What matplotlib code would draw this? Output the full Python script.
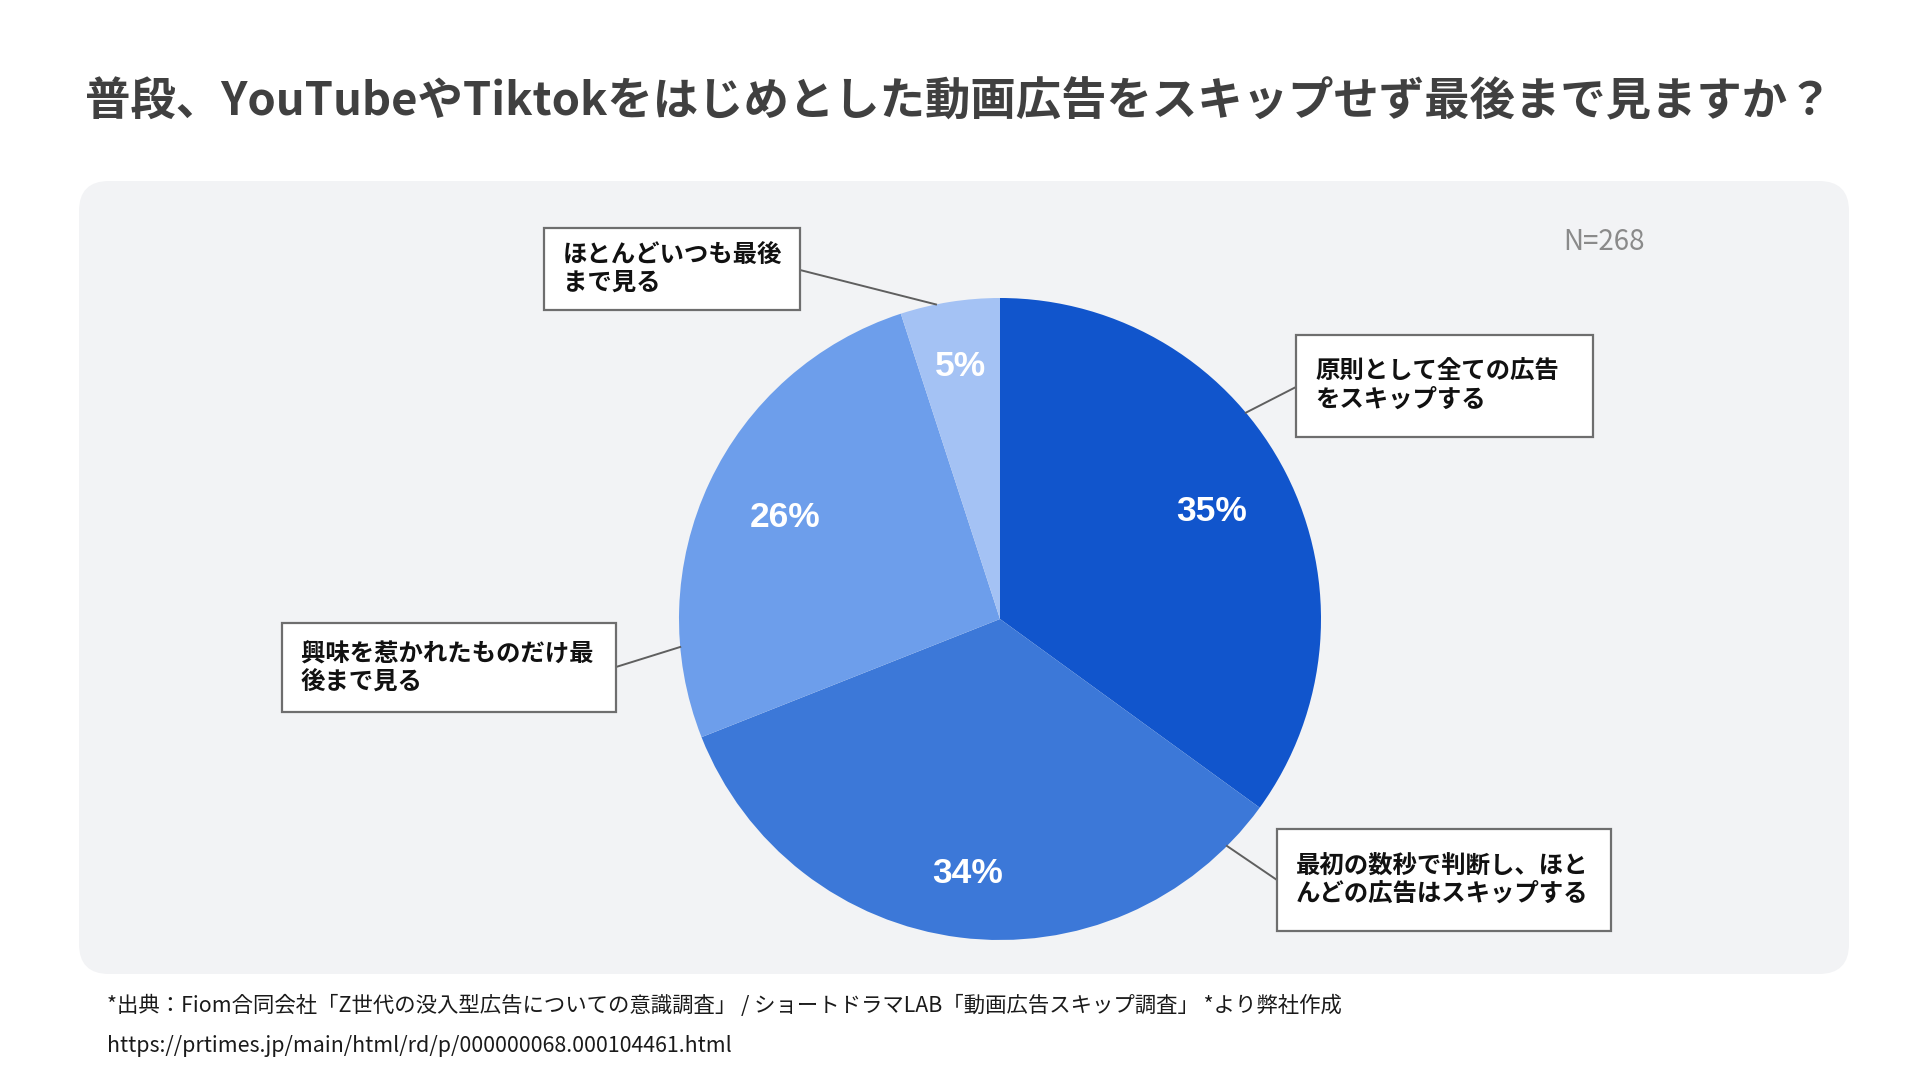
import matplotlib.pyplot as plt
from matplotlib.patches import FancyBboxPatch, Rectangle
import numpy as np

plt.rcParams['font.family'] = ['Noto Sans CJK JP', 'DejaVu Sans']

title = "普段、YouTubeやTiktokをはじめとした動画広告をスキップせず最後まで見ますか？"
categories = ["原則として全ての広告\nをスキップする",
              "最初の数秒で判断し、ほと\nんどの広告はスキップする",
              "興味を惹かれたものだけ最\n後まで見る",
              "ほとんどいつも最後\nまで見る"]
shares = [35, 34, 26, 5]
colors = ["#1155cc", "#3c78d8", "#6d9eeb", "#a4c2f4"]
n_label = "N=268"
source = "*出典：Fiom合同会社「Z世代の没入型広告についての意識調査」 / ショートドラマLAB「動画広告スキップ調査」 *より弊社作成"
url = "https://prtimes.jp/main/html/rd/p/000000068.000104461.html"

W, H = 1920, 1080


def Y(y):
    return H - y


fig = plt.figure(figsize=(19.2, 10.8), dpi=100)
fig.patch.set_facecolor("white")
ax = fig.add_axes([0, 0, 1, 1])

# grey panel
panel = FancyBboxPatch((79, Y(974)), 1770, 974 - 181,
                       boxstyle="round,pad=0,rounding_size=30",
                       facecolor="#f2f3f5", edgecolor="none", zorder=0)
ax.add_patch(panel)

cx, cy, r = 1000, 619, 321
wedges, texts, autotexts = ax.pie(
    shares, colors=colors, startangle=90, counterclock=False,
    center=(cx, Y(cy)), radius=r,
    autopct=lambda p: f"{p:.0f}%", pctdistance=0.77,
    wedgeprops=dict(linewidth=0),
    textprops=dict(color="white", fontsize=25.5, fontweight="bold",
                   family=["Liberation Sans", "DejaVu Sans"]))

# percent labels sit at slightly different distances in the original
label_dist = [0.74, 0.80, 0.74, 0.795]
for w, t, d in zip(wedges, autotexts, label_dist):
    w.set_zorder(2)
    mid = np.radians((w.theta1 + w.theta2) / 2)
    t.set_position((cx + d * r * np.cos(mid), Y(cy) + d * r * np.sin(mid)))
    t.set_zorder(3)

# callout boxes: (left, top, right, bottom), line start on box, angle on pie edge
boxes = [
    ((1296, 335, 1593, 437), (1296, 387), 40.0),
    ((1277, 829, 1611, 931), (1277, 880), -45.0),
    ((282, 623, 616, 712), (616, 667), -175.0),
    ((544, 228, 800, 310), (800, 270), 101.5),
]
for text, (rect, start, ang) in zip(categories, boxes):
    x0, y0, x1, y1 = rect
    ax.add_patch(Rectangle((x0, Y(y1)), x1 - x0, y1 - y0, facecolor="white",
                           edgecolor="#6e6e6e", linewidth=1.6, zorder=4))
    ex = cx + r * np.cos(np.radians(ang))
    ey = Y(cy) + r * np.sin(np.radians(ang))
    ax.plot([start[0], ex], [Y(start[1]), ey], color="#5f5f5f", lw=1.4, zorder=3)
    ax.text(x0 + 19, Y((y0 + y1) / 2), text, ha="left", va="center",
            fontsize=17.6, fontweight="bold", color="#111111",
            linespacing=1.22, zorder=5)

ax.text(1645, Y(242), n_label, ha="right", va="center", fontsize=20,
        color="#8a8a8a", zorder=5)

ax.text(959, Y(102), title, ha="center", va="center", fontsize=32.7,
        fontweight="bold", color="#404040")

ax.text(107, Y(1006), source, ha="left", va="center", fontsize=15.4, color="#1a1a1a")
ax.text(107, Y(1046), url, ha="left", va="center", fontsize=15.4, color="#1a1a1a")

ax.set_xlim(0, W)
ax.set_ylim(0, H)
ax.set_aspect("equal")
ax.axis("off")

fig.savefig("out.png", dpi=100, facecolor="white")
